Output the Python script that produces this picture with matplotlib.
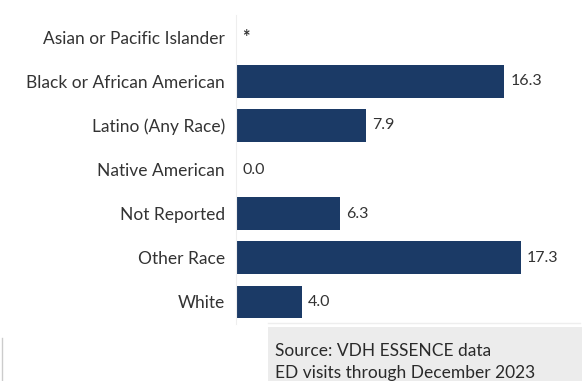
import numpy as np
import matplotlib
matplotlib.use("Agg")
import matplotlib.pyplot as plt
from matplotlib.patches import Rectangle
from matplotlib.lines import Line2D

categories = ["Asian or Pacific Islander", "Black or African American", "Latino (Any Race)",
              "Native American", "Not Reported", "Other Race", "White"]
values = [np.nan, 16.3, 7.9, 0.0, 6.3, 17.3, 4.0]
value_labels = ["*", "16.3", "7.9", "0.0", "6.3", "17.3", "4.0"]
source_lines = ["Source: VDH ESSENCE data", "ED visits through December 2023"]

W, H = 582, 381
plt.rcParams['font.family'] = ['Lato', 'DejaVu Sans']
fig = plt.figure(figsize=(W / 100, H / 100), dpi=100)
fig.patch.set_facecolor("white")

ax = fig.add_axes([236 / W, 1 - 324 / H, (565 - 236) / W, (324 - 15) / H])
bar_color = "#1b3a66"
text_color = "#333333"
ypos = np.arange(len(categories))
vals = np.nan_to_num(np.array(values, dtype=float))
ax.barh(ypos, vals, height=0.74, color=bar_color)
for y, v, lab in zip(ypos, vals, value_labels):
    fs = 13 if lab == "*" else 11.5
    ax.annotate(lab, (v, y), xytext=(4.5, 0), textcoords="offset points",
                ha="left", va="center", fontsize=fs, color=text_color,
                fontweight="bold" if lab == "*" else "normal")
ax.set_yticks(ypos)
ax.set_yticklabels(categories, fontsize=12.5, color=text_color)
ax.set_ylim(len(categories) - 0.5, -0.5)
ax.set_xlim(0, 20)
ax.set_xticks([])
ax.tick_params(axis="y", length=0, pad=8)
for s in ["top", "right", "bottom"]:
    ax.spines[s].set_visible(False)
ax.spines["left"].set_color("#eeeeee")
ax.spines["left"].set_linewidth(0.8)

# source box
fig.patches.append(Rectangle((268 / W, 0), (W - 268) / W, (H - 327) / H,
                             transform=fig.transFigure, facecolor="#ececec", edgecolor="none"))
fig.lines.append(Line2D([268 / W, 580 / W], [1 - 323 / H, 1 - 323 / H],
                        transform=fig.transFigure, color="#eeeeee", lw=1))
fig.lines.append(Line2D([2 / W, 2 / W], [0, 1 - 338 / H],
                        transform=fig.transFigure, color="#cccccc", lw=1))
fig.text(275 / W, 1 - 356 / H, source_lines[0], fontsize=12.5, color="#2a2a2a",
         ha="left", va="baseline")
fig.text(275 / W, 1 - 378 / H, source_lines[1], fontsize=12.5, color="#2a2a2a",
         ha="left", va="baseline")

fig.savefig("out.png", dpi=100)
